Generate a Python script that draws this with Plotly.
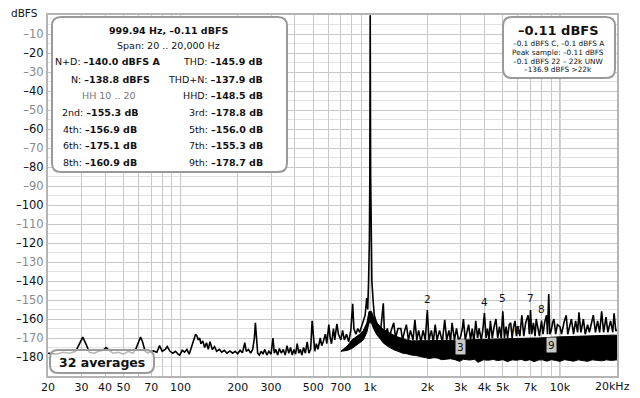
import math
import plotly.graph_objects as go

# ---------------- data ----------------
freq_hz = [20, 22, 24, 26, 28, 29, 30.5, 32, 33, 35, 37, 39, 40.5, 42, 44, 47, 50, 53, 56, 58, 60, 61.5, 63, 65, 67,
           70, 72, 75, 77.5, 80, 83, 85, 88, 91, 94, 97, 99, 102, 105, 108, 111, 114, 117, 120, 122, 124, 126, 128,
           131, 134, 137, 140, 143, 147, 151, 155, 160, 165, 170, 176, 182, 188, 194, 200, 206, 212, 218, 222, 228,
           234, 240, 245, 248, 251, 255, 260, 266, 272, 278, 285, 292, 300, 307, 312, 318, 325, 332, 340, 348, 356,
           364, 372, 380, 388, 396, 404, 412, 420, 428, 436, 445, 455, 465, 475, 485, 494, 502, 510, 520, 530, 545,
           555, 565, 580, 590, 605, 615, 625, 640, 650, 667, 680, 700, 715, 730, 750, 770, 790, 808, 820, 840, 860,
           880, 900, 920, 940, 958, 970, 980, 990, 995, 998, 999.94, 1002, 1005, 1010, 1020, 1035, 1050, 1080, 1100,
           1130, 1172, 1190, 1230, 1260, 1290, 1330, 1360, 1400, 1450, 1480, 1520, 1550, 1590, 1630, 1680, 1720,
           1760, 1800, 1850, 1900, 1950, 2000, 2040, 2100, 2150, 2200, 2250, 2320, 2400, 2470, 2530, 2600, 2650,
           2700, 2780, 2850, 2930, 3000, 3060, 3100, 3170, 3250, 3300, 3380, 3450, 3520, 3600, 3680, 3750, 3850,
           3920, 4000, 4080, 4150, 4230, 4300, 4400, 4500, 4600, 4700, 4800, 4900, 5000, 5100, 5200, 5300, 5400,
           5500, 5600, 5700, 5800, 5900, 6000, 6150, 6300, 6450, 6600, 6800, 6900, 7000, 7100, 7250, 7400, 7500,
           7650, 7800, 8000, 8150, 8300, 8500, 8600, 8730, 8850, 9000, 9150, 9300, 9500, 9700, 10000, 10200, 10500,
           10800, 11000, 11300, 11500, 11800, 12100, 12400, 12600, 12900, 13300, 13600, 14000, 14300, 14700, 15000,
           15400, 15800, 16200, 16600, 17000, 17500, 17900, 18500, 19000, 19300, 19700, 20000]
level_dbfs = [-178, -178.5, -177.5, -178, -177, -174, -169.5, -174, -177.5, -178, -177, -176.5, -175, -176.5, -178,
              -177.5, -178.5, -177, -178, -176, -172.5, -169.5, -172, -177, -178,
              -177.5, -176.8, -177.5, -174, -177, -176, -174.5, -177, -178, -177, -178.5, -179, -176.5, -177.5, -176,
              -178.5, -175, -172, -168, -169, -171, -170, -173,
              -171.5, -175, -172.5, -176, -172, -176, -174.5, -177, -176, -177.5, -176.5, -178, -176.8, -178, -177,
              -178.3, -176.5, -177.8, -172.5, -177, -176,
              -178, -176, -170, -162, -170, -178, -179, -177, -178.5, -176, -179, -177, -178.5, -170, -178, -176,
              -179, -175.5, -178, -176, -179,
              -174, -178, -175, -179, -176, -178.5, -173, -178, -176, -179, -175, -178, -172, -178, -176, -161, -172,
              -177, -173, -176, -170,
              -174, -172, -168, -173, -163, -170, -173, -165, -171, -162.5, -168, -171, -166, -171, -168, -172, -166,
              -152, -165, -168, -165,
              -167, -164, -160, -158, -149, -155, -140, -118, -85, -40, -0.11, -40, -85, -118, -140, -150, -158, -162,
              -165,
              -168, -151.7, -169, -165, -170, -166, -162, -170, -165, -165, -171, -166, -163, -171, -166, -171, -160.5,
              -171, -166, -172, -166, -171, -155.3, -171, -166, -172, -163, -171, -166, -172, -160.5, -171, -166, -172,
              -162, -171, -165, -172, -169, -165, -160, -171, -165, -163, -171, -165, -172, -161, -170, -165, -171,
              -166, -156.9, -170, -165, -171, -161, -170, -164, -160, -170, -164, -170, -156.0, -170, -164, -170, -163,
              -162, -170, -164, -161, -169, -164, -169, -158, -169, -162, -158, -168, -155.3, -168, -162, -169, -160,
              -164, -169, -160.9, -168, -162, -158, -168, -146.8, -168, -166, -162, -160, -168, -163, -164, -168, -162,
              -158, -168, -162, -160, -168, -161, -167, -156.5, -167, -160, -168, -163, -167, -161, -158,
              -167, -161, -167, -156, -167, -159, -167, -161, -167, -157, -166, -166]

# dense noise band (lower and upper edge of the solid black region)
band_freq = [700, 760, 800, 840, 880, 920, 960, 985, 1015, 1040, 1084, 1130, 1172, 1220, 1264, 1330, 1400, 1484,
             1560, 1650, 1740, 1827, 1930, 2050, 2150, 2253, 2380, 2500, 2650, 2800, 2950, 3100, 3350, 3550, 3700,
             3950, 4200, 4450, 4700, 5000, 5300, 5600, 5900, 6250, 6600, 6950, 7300, 7700, 8100, 8550, 9000, 9500,
             10000, 10600, 11200, 11800, 12500, 13200, 14000, 14800, 15700, 16600, 17600, 18700, 20000]
band_floor = [-177, -176.5, -175.5, -173.7, -172.5, -171, -167, -162, -162, -165, -168.4, -170.5, -172.6, -174, -175,
              -176.2, -177, -178, -178.3, -179, -179.2, -179.6, -180.3, -180.8, -180.4, -180.5, -181.4, -181.3,
              -180.9, -181.4, -182.3, -181.2, -181.6, -181.2, -182.8, -181.5, -181.7, -181.3, -181.9, -181.4, -182.4,
              -181.5, -181.7, -181.3, -182, -181.4, -182.5, -181.6, -181.5, -182.2, -181.4, -181.8, -182.3, -181.4,
              -181.7, -182.2, -181.5, -181.8, -182.3, -181.5, -181.7, -182, -181.5, -181.8, -181.5]
band_top = [-177, -174, -171, -169.5, -168, -166, -162, -156, -156, -159, -162, -164, -165.5, -166.5, -167.5, -168.5,
            -169.5, -170.5, -171, -171.5, -171.5, -171.5, -171.5, -171.5, -171.5, -171.5, -171.5, -171.5, -171.3,
            -171.2, -171.2, -171, -171, -171, -170.8, -170.8, -170.7, -170.6, -170.5, -170.5, -170.4, -170.3, -170.2,
            -170.2, -170.1, -170, -170, -170, -169.8, -169.7, -169.6, -169.5, -169.4, -169.3, -169.2, -169, -169,
            -169, -168.8, -168.8, -168.7, -168.6, -168.5, -168.5, -168.5]

harm_labels = ["2", "3", "4", "5", "6", "7", "8", "9"]
harm_freq = [2000, 3000, 4000, 5000, 6000, 7000, 8000, 9000]
harm_label_level = [-149.4, -174.6, -150.9, -149.1, -165.8, -148.9, -154.7, -173.7]
harm_boxed = ["3", "9"]

y_ticks = list(range(-10, -181, -10))
x_grid = [20, 30, 40, 50, 60, 70, 80, 90, 100, 200, 300, 400, 500, 600, 700, 800, 900,
          1000, 2000, 3000, 4000, 5000, 6000, 7000, 8000, 9000, 10000, 20000]
x_labels = ["20", "30", "40", "50", "", "70", "", "", "100", "200", "300", "", "500", "", "700", "", "",
            "1k", "2k", "3k", "4k", "5k", "", "7k", "", "", "10k", ""]
x_last_label = "20kHz"
decades = [100, 1000, 10000]

left_title = ["<b>999.94 Hz, –0.11 dBFS</b>", "Span: 20 .. 20,000 Hz"]
left_col = ["N+D: <b>–140.0 dBFS A</b>", "N: <b>–138.8 dBFS</b>", "<span style='color:#777'>HH 10 .. 20</span>",
            "2nd: <b>–155.3 dB</b>", "4th: <b>–156.9 dB</b>", "6th: <b>–175.1 dB</b>", "8th: <b>–160.9 dB</b>"]
right_col = ["THD: <b>–145.9 dB</b>", "THD+N: <b>–137.9 dB</b>", "HHD: <b>–148.5 dB</b>", "3rd: <b>–178.8 dB</b>",
             "5th: <b>–156.0 dB</b>", "7th: <b>–155.3 dB</b>", "9th: <b>–178.7 dB</b>"]
level_big = "<b>–0.11 dBFS</b>"
level_small = ["–0.1 dBFS C, –0.1 dBFS A", "Peak sample: –0.11 dBFS", "–0.1 dBFS 22 – 22k UNW", "–136.9 dBFS >22k"]
avg_text = "<b>32 averages</b>"

# ---------------- layout geometry ----------------
# the page body has an 8 px margin, so the figure is made 8 px smaller and the
# helper functions below work in page pixels
OFF = 8
W, H = 640 - OFF, 398 - OFF
L, R, T, B = 48 - OFF, 23, 15 - OFF, 22
PX0, PX1, PY0, PY1 = 48, 617, 15, 376  # plot area in page pixels
FONT = "DejaVu Sans"


def px(x):
    return (x - PX0) / (PX1 - PX0)


def py(y):
    return (PY1 - y) / (PY1 - PY0)


def rrect(x0, y0, x1, y1, r):
    return (f"M {px(x0 + r)},{py(y0)} L {px(x1 - r)},{py(y0)} Q {px(x1)},{py(y0)} {px(x1)},{py(y0 + r)} "
            f"L {px(x1)},{py(y1 - r)} Q {px(x1)},{py(y1)} {px(x1 - r)},{py(y1)} "
            f"L {px(x0 + r)},{py(y1)} Q {px(x0)},{py(y1)} {px(x0)},{py(y1 - r)} "
            f"L {px(x0)},{py(y0 + r)} Q {px(x0)},{py(y0)} {px(x0 + r)},{py(y0)} Z")


def label(text, x, y, size, xanchor="center", **kw):
    return dict(text=text, xref="paper", yref="paper", x=px(x), y=py(y), xanchor=xanchor, yanchor="middle",
                showarrow=False, font=dict(size=size, color="#111"), **kw)


fig = go.Figure()
fig.add_trace(go.Scatter(x=band_freq, y=band_floor, mode="lines", line=dict(color="black", width=1),
                         showlegend=False, hoverinfo="skip"))
fig.add_trace(go.Scatter(x=band_freq, y=band_top, mode="lines", line=dict(color="black", width=1),
                         fill="tonexty", fillcolor="black", showlegend=False, hoverinfo="skip"))
fig.add_trace(go.Scatter(x=freq_hz, y=level_dbfs, mode="lines", line=dict(color="black", width=1.6),
                         showlegend=False))

shapes = []
for d in decades:
    shapes.append(dict(type="line", xref="x", yref="paper", x0=d, x1=d, y0=0, y1=1,
                       line=dict(color="#8c8c8c", width=1), layer="below"))
shapes.append(dict(type="path", xref="paper", yref="paper", path=rrect(52, 17, 287, 172, 9),
                   fillcolor="white", line=dict(color="#9a9a9a", width=2), layer="above"))
shapes.append(dict(type="path", xref="paper", yref="paper", path=rrect(503, 17, 615, 78, 9),
                   fillcolor="white", line=dict(color="#9a9a9a", width=2), layer="above"))
shapes.append(dict(type="path", xref="paper", yref="paper", path=rrect(50, 350, 154, 373, 8),
                   fillcolor="rgba(255,255,255,0.72)", line=dict(color="#9a9a9a", width=2), layer="above"))

ann = []
ann.append(label("dBFS", 24, 13.5, 10.5))
ann.append(label(x_last_label, 632, 386, 11, xanchor="right"))
ann.append(label(left_title[0], 168, 30, 9.5))
ann.append(label(left_title[1], 168, 45.5, 9.5))
row_y = [62, 79, 96, 112, 129, 145, 162]
left_cx = [107, 110, 109, 100, 100, 100, 100]
for t, yy, cx in zip(left_col, row_y, left_cx):
    ann.append(label(t, cx, yy, 9.5))
for t, yy in zip(right_col, row_y):
    ann.append(label(t, 265, yy, 9.5, xanchor="right"))
ann.append(label(level_big, 558, 30, 13))
for t, yy in zip(level_small, [43, 52, 61, 70]):
    ann.append(label(t, 558, yy, 7.3))
ann.append(label(avg_text, 102, 362, 12.5))
for lab, f, lv in zip(harm_labels, harm_freq, harm_label_level):
    boxed = lab in harm_boxed
    ann.append(dict(text=lab, xref="x", yref="y", x=math.log10(f), y=lv, xanchor="center", yanchor="middle",
                    showarrow=False, font=dict(size=10.5, color="#111"),
                    bgcolor="#c8c8c8" if boxed else None, borderpad=1))

y_text = []
for i, v in enumerate(y_ticks):
    s = "–" + str(abs(v))
    y_text.append(s if i % 2 == 1 else f"<span style='color:#8a8a8a'>{s}</span>")

fig.update_layout(
    width=W, height=H,
    margin=dict(l=L, r=R, t=T, b=B, pad=0, autoexpand=False),
    paper_bgcolor="white", plot_bgcolor="white",
    font=dict(family=FONT, color="#111"),
    showlegend=False,
    shapes=shapes, annotations=ann,
    xaxis=dict(type="log", range=[math.log10(20), math.log10(20000)], tickmode="array", automargin=False,
               tickvals=x_grid, ticktext=x_labels, showgrid=True, gridcolor="#c8c8c8", gridwidth=1,
               showline=True, linecolor="#b5b5b5", linewidth=2, mirror=True, ticks="",
               tickfont=dict(size=11, color="#111"), zeroline=False),
    yaxis=dict(range=[-190, 0], tickmode="array", tickvals=y_ticks, ticktext=y_text, showgrid=True,
               gridcolor="#c8c8c8", gridwidth=1, automargin=False,
               minor=dict(dtick=5, tick0=0, showgrid=True, gridcolor="#e2e2e2", ticks=""),
               showline=True, linecolor="#b5b5b5", linewidth=2, mirror=True, ticks="",
               tickfont=dict(size=11.5, color="#111"), zeroline=False),
)

fig.write_html("out.html")
